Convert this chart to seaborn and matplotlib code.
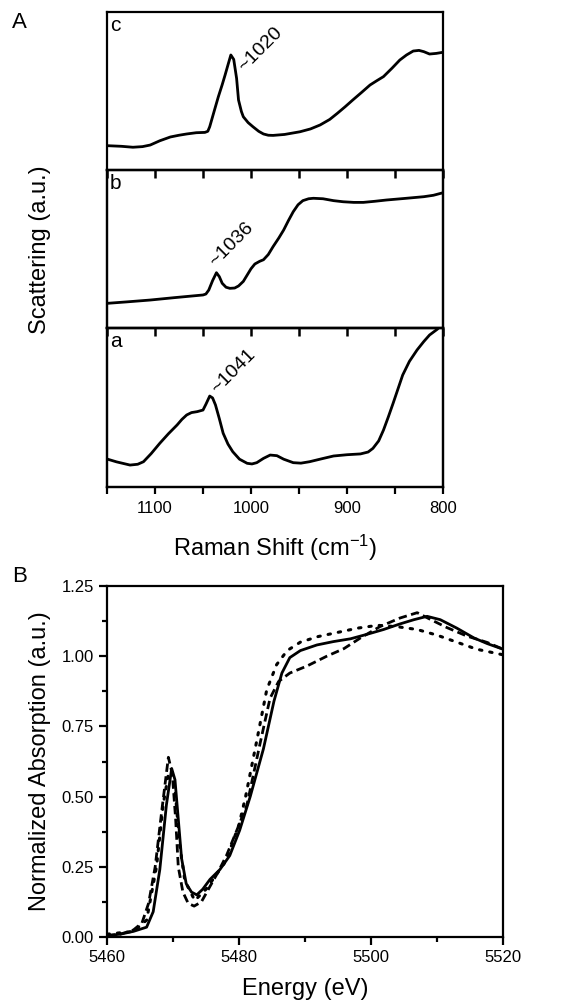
import numpy as np
import pandas as pd
import matplotlib
matplotlib.use("Agg")
import matplotlib.pyplot as plt
from matplotlib.ticker import MultipleLocator, FormatStrFormatter, NullFormatter
import seaborn as sns

# ---------------- data: panel A (Raman) ----------------
raman_c_x = [1150, 1135, 1123, 1113, 1105, 1095, 1084, 1075, 1067, 1057, 1048, 1045, 1043, 1038, 1034, 1030,
             1027, 1024, 1021, 1018, 1015, 1013, 1010, 1008, 1003, 998, 992, 987, 982, 977, 965, 949, 938,
             928, 918, 910, 902, 894, 885, 876, 869, 862, 853, 845, 838, 831, 825, 820, 814, 807, 800]
raman_c_y = [0.154, 0.150, 0.144, 0.148, 0.158, 0.185, 0.209, 0.220, 0.228, 0.236, 0.238, 0.245, 0.274, 0.380,
             0.464, 0.540, 0.601, 0.665, 0.728, 0.700, 0.580, 0.443, 0.370, 0.337, 0.300, 0.274, 0.245, 0.228,
             0.220, 0.219, 0.225, 0.242, 0.260, 0.285, 0.320, 0.359, 0.400, 0.443, 0.490, 0.538, 0.565,
             0.591, 0.645, 0.696, 0.728, 0.753, 0.757, 0.749, 0.734, 0.738, 0.745]

raman_b_x = [1150, 1130, 1105, 1080, 1050, 1047, 1044, 1040, 1036, 1033, 1030, 1026, 1022, 1017, 1013, 1008,
             1004, 1000, 996, 991, 987, 982, 977, 971, 966, 961, 956, 951, 946, 940, 935, 925, 914, 904, 893,
             883, 871, 859, 840, 820, 810, 800]
raman_b_y = [0.156, 0.165, 0.177, 0.192, 0.209, 0.215, 0.240, 0.300, 0.350, 0.325, 0.283, 0.258, 0.251, 0.253,
             0.266, 0.295, 0.335, 0.375, 0.405, 0.422, 0.432, 0.465, 0.515, 0.570, 0.620, 0.680, 0.736, 0.780,
             0.806, 0.818, 0.821, 0.818, 0.806, 0.799, 0.795, 0.795, 0.802, 0.810, 0.820, 0.831, 0.840, 0.856]

raman_a_x = [1150, 1140, 1126, 1118, 1112, 1104, 1095, 1086, 1077, 1072, 1067, 1062, 1056, 1050, 1047, 1043,
             1040, 1037, 1033, 1029, 1024, 1019, 1012, 1004, 999, 994, 987, 980, 973, 966, 956, 948, 939, 926,
             914, 900, 886, 878, 873, 867, 862, 857, 852, 847, 842, 835, 827, 820, 814, 806, 800]
raman_a_y = [0.176, 0.158, 0.138, 0.143, 0.159, 0.210, 0.275, 0.335, 0.390, 0.425, 0.453, 0.468, 0.474, 0.484,
             0.520, 0.572, 0.560, 0.516, 0.430, 0.338, 0.270, 0.222, 0.175, 0.149, 0.145, 0.153, 0.180, 0.201,
             0.197, 0.175, 0.153, 0.150, 0.159, 0.178, 0.195, 0.203, 0.208, 0.220, 0.243, 0.290, 0.358, 0.440,
             0.526, 0.615, 0.704, 0.790, 0.862, 0.915, 0.956, 0.992, 1.03]

raman_labels = ["c", "b", "a"]
peak_labels = ["~1020", "~1036", "~1041"]
peak_label_x = [1004, 1034, 1032]
peak_label_y = [0.60, 0.37, 0.57]

# ---------------- data: panel B (XANES) ----------------
solid_e = [5460, 5462, 5464, 5466, 5467, 5468, 5469, 5469.8, 5470.3, 5470.8, 5471.3, 5472, 5472.8, 5473.6,
           5474.5, 5475.6, 5477.1, 5478.6, 5480.1, 5481.7, 5483.7, 5485.3, 5486.5, 5487.7, 5489.3, 5491.8,
           5494.3, 5496.9, 5499.4, 5501.9, 5504.4, 5506.5, 5508.5, 5510.5, 5513, 5515.6, 5517.6, 5520]
solid_a = [0.005, 0.01, 0.02, 0.035, 0.09, 0.24, 0.47, 0.60, 0.56, 0.42, 0.28, 0.19, 0.16, 0.15, 0.17, 0.205,
           0.24, 0.29, 0.38, 0.50, 0.67, 0.84, 0.94, 0.995, 1.02, 1.04, 1.052, 1.062, 1.078, 1.095, 1.115,
           1.13, 1.142, 1.13, 1.1, 1.065, 1.045, 1.025]

dash_e = [5460, 5462, 5464, 5465.3, 5466.3, 5467.3, 5468.3, 5469.3, 5469.9, 5470.4, 5470.8, 5471.5, 5472.3,
          5473.2, 5474.3, 5475.6, 5476.8, 5478.1, 5479.5, 5481.2, 5483.2, 5484.7, 5486, 5487.7, 5490.3,
          5493.3, 5495.9, 5498.4, 5501.4, 5504.4, 5507, 5509, 5511.5, 5514.5, 5517.6, 5520]
dash_a = [0.005, 0.01, 0.025, 0.05, 0.12, 0.25, 0.45, 0.64, 0.58, 0.42, 0.25, 0.16, 0.12, 0.11, 0.125, 0.18,
          0.23, 0.29, 0.37, 0.47, 0.69, 0.85, 0.91, 0.94, 0.965, 1.0, 1.027, 1.065, 1.106, 1.136, 1.155,
          1.131, 1.102, 1.072, 1.049, 1.025]

dot_e = [5460, 5464, 5466, 5467.5, 5468.5, 5469.3, 5469.8, 5470.4, 5471, 5471.8, 5473.3, 5475, 5476.5, 5478,
         5480, 5481, 5482.7, 5484.2, 5485.7, 5487.3, 5489.3, 5492, 5495, 5498, 5501, 5504, 5507, 5510, 5513,
         5516, 5520]
dot_a = [0.01, 0.02, 0.06, 0.25, 0.47, 0.58, 0.59, 0.5, 0.33, 0.2, 0.13, 0.17, 0.22, 0.27, 0.40, 0.5, 0.70,
         0.88, 0.97, 1.02, 1.05, 1.07, 1.085, 1.10, 1.11, 1.105, 1.095, 1.075, 1.05, 1.025, 1.005]

# ---------------- style ----------------
sns.set_theme(style="ticks")
plt.rcParams["font.family"] = ["Liberation Sans", "DejaVu Sans"]
plt.rcParams["mathtext.fontset"] = "custom"
plt.rcParams["mathtext.rm"] = "Liberation Sans"
plt.rcParams["mathtext.it"] = "Liberation Sans:italic"
plt.rcParams["axes.linewidth"] = 1.6
plt.rcParams["axes.edgecolor"] = "black"
plt.rcParams["text.color"] = "black"
plt.rcParams["axes.labelcolor"] = "black"
plt.rcParams["xtick.color"] = "black"
plt.rcParams["ytick.color"] = "black"

fig = plt.figure(figsize=(5.71, 10.05), dpi=100)
W, H = 571.0, 1005.0

def ax_rect(l, t, r, b):
    return [l / W, 1 - b / H, (r - l) / W, (b - t) / H]

panel_rects = [ax_rect(107, 12, 443, 170), ax_rect(107, 170, 443, 328), ax_rect(107, 328, 443, 487)]
series_A = [(raman_c_x, raman_c_y), (raman_b_x, raman_b_y), (raman_a_x, raman_a_y)]

for i, (rect, (xs, ys)) in enumerate(zip(panel_rects, series_A)):
    ax = fig.add_axes(rect)
    ax.patch.set_visible(False)
    df = pd.DataFrame({"x": xs, "y": ys})
    sns.lineplot(data=df, x="x", y="y", ax=ax, color="black", linewidth=2.0, estimator=None, sort=True)
    ax.set_xlim(1150, 800)
    ax.set_ylim(0, 1)
    ax.set_yticks([])
    ax.set_xlabel("")
    ax.set_ylabel("")
    for s in ax.spines.values():
        s.set_visible(True)
        s.set_linewidth(1.6)
        s.set_color("black")
    if i == 2:
        ax.xaxis.set_major_locator(MultipleLocator(100))
        ax.xaxis.set_minor_locator(MultipleLocator(50))
        ax.tick_params(axis="x", which="major", direction="out", length=5, width=1.6, labelsize=12, pad=5,
                       colors="black")
        ax.tick_params(axis="x", which="minor", direction="out", length=5, width=1.6)
    else:
        ax.set_xticks([])
    if i > 0:
        tw = ax.twiny()
        tw.patch.set_visible(False)
        tw.set_xlim(1150, 800)
        tw.set_yticks([])
        tw.set_xticks([1150, 1100, 1050, 1000, 950, 900, 850, 800])
        tw.set_xticklabels([])
        tw.tick_params(axis="x", which="major", top=True, bottom=False, labeltop=False, labelbottom=False,
                       direction="in", length=6, width=1.8, colors="black")
        for s in tw.spines.values():
            s.set_linewidth(1.6)
            s.set_color("black")
    ax.text(0.008, 0.975, raman_labels[i], transform=ax.transAxes, ha="left", va="top", fontsize=15)
    ax.text(peak_label_x[i], peak_label_y[i], peak_labels[i], rotation=45, rotation_mode="anchor",
            ha="left", va="bottom", fontsize=14)

fig.text(275 / W, 1 - 548 / H, "Raman Shift (cm$^{-1}$)", ha="center", va="center", fontsize=17)
fig.text(40 / W, 1 - 250 / H, "Scattering (a.u.)", ha="center", va="center", rotation=90, fontsize=17)
fig.text(12 / W, 1 - 12 / H, "A", ha="left", va="top", fontsize=16)

# ---------------- panel B ----------------
axB = fig.add_axes(ax_rect(107, 586, 503, 937))
sns.lineplot(x=solid_e, y=solid_a, ax=axB, color="black", linewidth=2.0, estimator=None)
sns.lineplot(x=dash_e, y=dash_a, ax=axB, color="black", linewidth=2.0, estimator=None)
axB.lines[-1].set_dashes([3.0, 1.6])
sns.lineplot(x=dot_e, y=dot_a, ax=axB, color="black", linewidth=2.2, estimator=None)
axB.lines[-1].set_dashes([0.8, 2.6])
axB.lines[-1].set_dash_capstyle("round")
axB.set_xlim(5460, 5520)
axB.set_ylim(0, 1.25)
axB.xaxis.set_major_locator(MultipleLocator(20))
axB.xaxis.set_minor_locator(MultipleLocator(10))
axB.yaxis.set_major_locator(MultipleLocator(0.25))
axB.yaxis.set_minor_locator(MultipleLocator(0.125))
axB.yaxis.set_major_formatter(FormatStrFormatter("%.2f"))
axB.tick_params(which="major", direction="out", length=6, width=1.6, labelsize=12, colors="black")
axB.tick_params(which="minor", direction="out", length=3.5, width=1.6)
for s in axB.spines.values():
    s.set_visible(True)
    s.set_linewidth(1.6)
    s.set_color("black")
axB.set_xlabel("")
axB.set_ylabel("")
fig.text(305 / W, 1 - 989 / H, "Energy (eV)", ha="center", va="center", fontsize=17)
fig.text(40 / W, 1 - 761 / H, "Normalized Absorption (a.u.)", ha="center", va="center", rotation=90,
         fontsize=17)
fig.text(12 / W, 1 - 566 / H, "B", ha="left", va="top", fontsize=16)

fig.savefig("out.png", dpi=100)
